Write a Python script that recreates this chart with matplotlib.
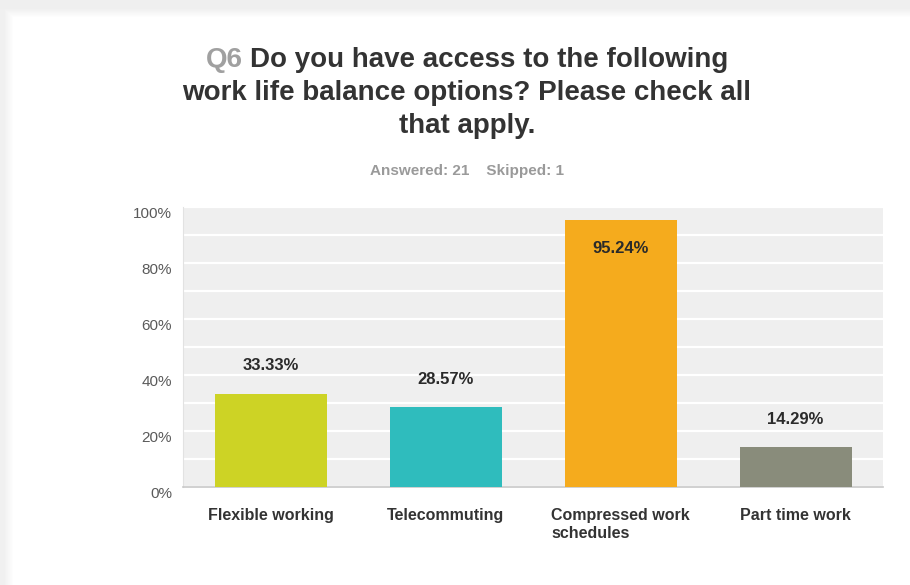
import matplotlib
matplotlib.use("Agg")
import numpy as np
import matplotlib.pyplot as plt
import matplotlib.transforms as mtransforms

plt.rcParams['font.family'] = ['Liberation Sans', 'DejaVu Sans']

categories = ["Flexible working", "Telecommuting", "Compressed work\nschedules", "Part time work"]
percents = [33.33, 28.57, 95.24, 14.29]
bar_colors = ["#cdd325", "#2fbcbd", "#f5ab1d", "#898c7b"]
y_ticks = [0, 20, 40, 60, 80, 100]

W, H = 910, 585
fig = plt.figure(figsize=(W / 100, H / 100), dpi=100)
fig.patch.set_facecolor("white")

# soft card shadow fading in from the top and left edges
bg = fig.add_axes([0, 0, 1, 1], zorder=-10)
bg.axis("off")
yy, xx = np.mgrid[0:H, 0:W]
top_fade = np.clip(1 - (yy - 8) / 9.0, 0, 1)
left_fade = np.clip(1 - (xx - 4) / 9.0, 0, 1) * 0.9
shade = np.maximum(top_fade, left_fade)
rgba = np.ones((H, W, 4))
rgba[..., :3] = 0.92
rgba[..., 3] = shade * 0.75
bg.imshow(rgba, extent=(0, W, H, 0), aspect="auto", interpolation="bilinear")
bg.set_xlim(0, W)
bg.set_ylim(H, 0)

ax = fig.add_axes([183 / W, 1 - 487 / H, 700 / W, 280 / H])
ax.set_facecolor("#efefef")

x = range(len(categories))
bars = ax.bar(x, percents, width=0.64, color=bar_colors, zorder=3)

ax.set_xlim(-0.5, len(categories) - 0.5)
ax.set_ylim(0, 100)
ax.set_yticks(y_ticks)
ax.set_yticklabels([f"{t}%" for t in y_ticks], color="#5a5a5a", fontsize=11)
ax.set_yticks(range(10, 100, 20), minor=True)
ax.grid(axis="y", which="both", color="white", linewidth=1.6, zorder=1)
ax.tick_params(axis="y", which="both", length=0, pad=8)
ax.tick_params(axis="x", length=0, pad=15)

offset = mtransforms.ScaledTranslation(0, -5 / 100, fig.dpi_scale_trans)
for lbl in ax.get_yticklabels():
    lbl.set_transform(lbl.get_transform() + offset)

ax.set_xticks(list(x))
ax.set_xticklabels(categories, fontsize=11.5, fontweight="bold", color="#333333",
                   multialignment="left", linespacing=1.25)

for s in ["top", "right"]:
    ax.spines[s].set_visible(False)
ax.spines["left"].set_color("#e2e2e2")
ax.spines["bottom"].set_color("#c8c8c8")
ax.spines["bottom"].set_linewidth(1.2)

for b, v in zip(bars, percents):
    cx = b.get_x() + b.get_width() / 2
    dy = -20 if v > 85 else 20
    ax.annotate(f"{v:.2f}%", (cx, v), xytext=(0, dy), textcoords="offset points",
                ha="center", va="center", fontsize=12, fontweight="bold", color="#2a2a2a")

# title, with the question number in grey
fig.canvas.draw()
renderer = fig.canvas.get_renderer()
title_kw = dict(fontsize=20, fontweight="bold", va="baseline")
cx_fig = 467 / W
full = fig.text(cx_fig, 1 - 67 / H, "Q6 Do you have access to the following",
                ha="center", alpha=0, **title_kw)
bb = full.get_window_extent(renderer)
full.remove()
fig.text(bb.x0 / fig.bbox.width, 1 - 67 / H, "Q6", color="#a0a0a0", ha="left", **title_kw)
fig.text(bb.x1 / fig.bbox.width, 1 - 67 / H, "Do you have access to the following",
         color="#333333", ha="right", **title_kw)
fig.text(cx_fig, 1 - 100 / H, "work life balance options? Please check all",
         color="#333333", ha="center", **title_kw)
fig.text(cx_fig, 1 - 133 / H, "that apply.", color="#333333", ha="center", **title_kw)

fig.text(cx_fig, 1 - 175 / H, "Answered: 21    Skipped: 1", color="#9a9a9a",
         ha="center", va="baseline", fontsize=11, fontweight="bold")

fig.savefig("out.png", dpi=100, facecolor="white")
